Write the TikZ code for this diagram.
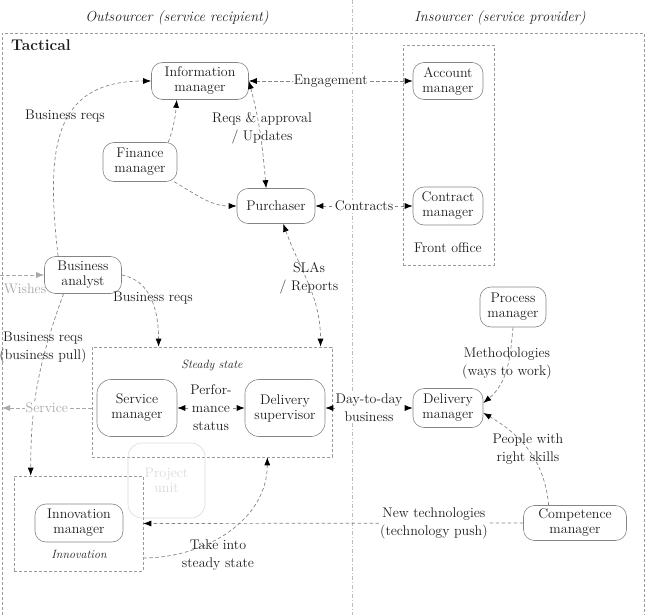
\documentclass[tikz,border=0pt]{standalone}
\usetikzlibrary{arrows.meta,calc}
\definecolor{ink}{HTML}{1E1E1E}
\definecolor{edgec}{HTML}{858585}
\definecolor{framec}{HTML}{9A9A9A}
\definecolor{divc}{HTML}{BDBDBD}
\definecolor{faint}{HTML}{A8A8A8}
\definecolor{ghost}{HTML}{DADADA}
\tikzset{
 role/.style={draw=edgec, line width=0.6pt, rounded corners=11pt, align=center, inner sep=1pt, text=ink, font=\fontsize{14}{15}\selectfont, minimum height=37pt},
 grp/.style={draw=framec, dash pattern=on 3pt off 2pt, line width=0.6pt, inner sep=0pt},
 flow/.style={draw=edgec, dash pattern=on 3.5pt off 2.5pt, line width=0.7pt},
 tip/.style={-{Latex[length=8pt,width=6pt,color=black]}},
 tips/.style={{Latex[length=8pt,width=6pt,color=black]}-{Latex[length=8pt,width=6pt,color=black]}},
 ftip/.style={-{Latex[length=8pt,width=6pt,color=faint]}},
 lbl/.style={align=center, text=ink, font=\fontsize{14}{18}\selectfont, inner sep=1pt},
 wlbl/.style={lbl, fill=white},
 ital/.style={text=ink, font=\fontsize{12}{14}\selectfont\itshape, inner sep=1pt},
 head/.style={text=ink, font=\fontsize{14.5}{16}\selectfont\itshape, inner sep=1pt},
}
\begin{document}
\begin{tikzpicture}
\useasboundingbox (0,0) rectangle (648pt,-615pt);
\begin{scope}[x=1pt,y=1pt]
% frames
\draw[draw=divc, line width=0.5pt, dash pattern=on 4pt off 2pt on 1pt off 2pt] (352,0) -- (352,-615);
\draw[grp] (2,-615) -- (2,-33) -- (644,-33) -- (644,-615);
\node[head] (h1) at (177,-18) {Outsourcer (service recipient)};
\node[head] (h2) at (500,-18) {Insourcer (service provider)};
\node[text=ink, font=\fontsize{15.5}{17}\selectfont\bfseries, inner sep=1pt] (tac) at (41,-45) {Tactical};

% groups
\node[grp, minimum width=91pt, minimum height=220pt] (fo) at (448.5,-155) {};
\node[grp, minimum width=240pt, minimum height=110pt] (ss) at (212,-402) {};
\node[grp, minimum width=129pt, minimum height=95pt] (ib) at (78.5,-523.5) {};
\node[lbl] (fot) at (448,-248) {Front office};
\node[ital] (sst) at (212,-365) {Steady state};
\node[ital] (ibt) at (79,-554) {Innovation};

% roles
\node[role, minimum width=97pt] (im) at (200,-81) {Information\\manager};
\node[role, minimum width=70pt] (am) at (448,-81) {Account\\manager};
\node[role, minimum width=74pt, minimum height=39pt] (fm) at (140,-162) {Finance\\manager};
\node[role, minimum width=78pt, minimum height=35pt] (pu) at (276,-206) {Purchaser};
\node[role, minimum width=70pt, minimum height=38pt] (cm) at (448,-206) {Contract\\manager};
\node[role, minimum width=77pt] (ba) at (83,-275) {Business\\analyst};
\node[role, minimum width=66pt, minimum height=40pt] (pm) at (513,-307) {Process\\manager};
\node[role, minimum width=70pt, minimum height=39pt] (dm) at (448,-408) {Delivery\\manager};
\node[role, minimum width=80pt, minimum height=57pt, rounded corners=14pt] (sm) at (137,-408) {Service\\manager};
\node[role, minimum width=80pt, minimum height=57pt, rounded corners=14pt] (ds) at (285,-408) {Delivery\\supervisor};
\node[role, minimum width=88pt, minimum height=38pt] (inm) at (79,-523) {Innovation\\manager};
\node[role, minimum width=103pt, minimum height=35pt] (co) at (575,-523) {Competence\\manager};
\node[role, draw=ghost, text=ghost, rounded corners=14pt, minimum width=77pt, minimum height=75pt] (pj) at (166.5,-480.5) {Project\\unit};

% connectors
\draw[flow,tip] (ba.143) .. controls (46,-150) and (52,-81) .. (im.west);
\node[lbl] (l1) at (65,-116) {Business reqs};
\draw[flow,tip] (fm.35) to[out=70,in=-95] (im.-141);
\draw[flow,tip] (fm.-30) to[out=-30,in=180] (pu.west);
\draw[flow,tips] (im.east) to[out=-75,in=95] (pu.119);
\node[lbl] (l2) at (262,-128) {Reqs \& approval\\/ Updates};
\draw[flow,tips] (im.east) -- node[wlbl] (l3) {Engagement} (am.west);
\draw[flow,tips] (pu.east) -- node[wlbl] (l4) {Contracts} (cm.west);
\draw[flow,tips] (pu.-68) to[out=-70,in=90] (ss.27.6);
\node[lbl] (l5) at (309,-278) {SLAs\\/ Reports};
\draw[flow,tip] (ba.east) to[out=-10,in=90] (ss.134);
\node[lbl] (l6) at (153,-298) {Business reqs};
\draw[flow,tip] (ba.-136) to[out=-110,in=90] (ib.135);
\node[lbl] (l7) at (43,-347) {Business reqs\\(business pull)};
\coordinate (wl) at (0,-275);
\draw[flow, draw=faint, ftip] (wl) -- (ba.west);
\node[lbl, text=faint] (l8) at (25,-289) {Wishes};
\coordinate (sl) at (2,-408);
\draw[flow, draw=faint, ftip] (ss.west |- sm.west) -- node[wlbl, text=faint] (l9) {Service} (sl);
\draw[flow,tips] (sm.east) -- node[wlbl] (l10) {Perfor-\\mance\\status} (ds.west);
\draw[flow,tips] (ds.east) -- node[wlbl] (l11) {Day-to-day\\business} (dm.west);
\draw[flow,tip] (ib.-28.1) to[out=0,in=-90] (ss.-45);
\node[lbl] (l12) at (218,-555) {Take into\\steady state};
\draw[flow,tip] (co.west) -- node[wlbl, pos=0.235] (l13) {New technologies\\(technology push)} (ib.east);
\draw[flow,tip] (pm.south) to[out=-95,in=40] (dm.8);
\node[lbl] (l14) at (507,-363) {Methodologies\\(ways to work)};
\draw[flow,tip] (co.146) to[out=95,in=-30] (dm.-8);
\node[lbl] (l15) at (528,-449) {People with\\right skills};
\end{scope}
\end{tikzpicture}
\end{document}
